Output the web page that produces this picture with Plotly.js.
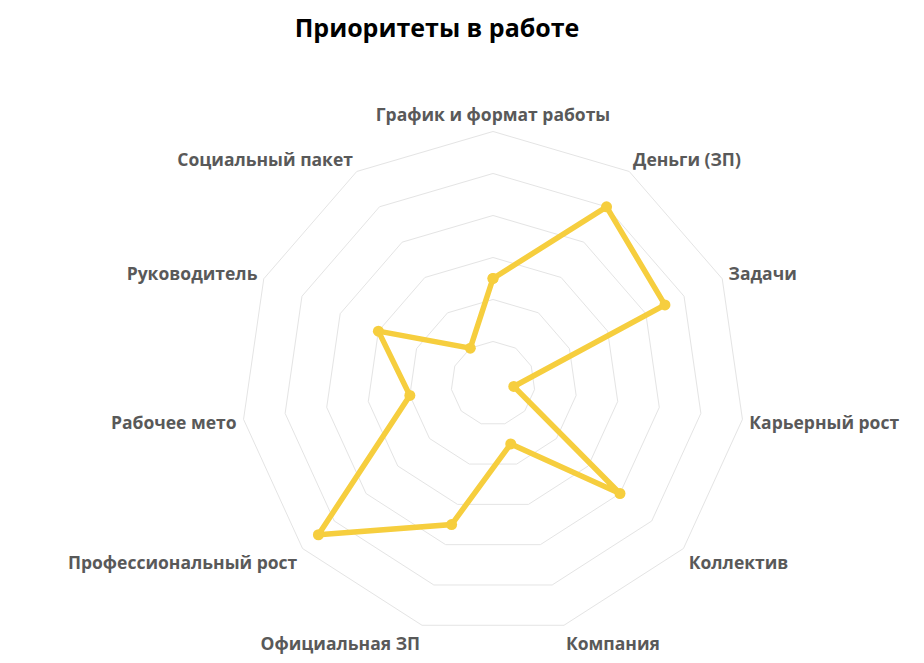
<!DOCTYPE html>
<html>
<head>
<meta charset="utf-8">
<script src="https://cdn.plot.ly/plotly-3.0.1.min.js"></script>
<style>
  html, body { margin: 0; padding: 0; background: #fff; }
  #gd { width: 924px; height: 663px; }
</style>
</head>
<body>
<div id="gd"></div>
<script>
// categories go clockwise from the top
const categories = [
  'График и формат работы',
  'Деньги (ЗП)',
  'Задачи',
  'Карьерный рост',
  'Коллектив',
  'Компания',
  'Официальная ЗП',
  'Профессиональный рост',
  'Рабочее мето',
  'Руководитель',
  'Социальный пакет'
];
const scores = [2.5, 5, 4.5, 0.5, 4, 1.5, 3.5, 5.5, 2, 3, 1];
const chartTitle = 'Приоритеты в работе';

// close the loop
const r = scores.concat([scores[0]]);
const theta = categories.concat([categories[0]]);

const yellow = '#F6CE3E';

const data = [{
  type: 'scatterpolar',
  r: r,
  theta: theta,
  mode: 'lines+markers',
  line: { color: yellow, width: 5.5 },
  marker: { color: yellow, size: 11 },
  hoverinfo: 'skip'
}];

const layout = {
  width: 924,
  height: 663,
  margin: { l: 0, r: 0, t: 0, b: 0 },
  paper_bgcolor: '#fff',
  showlegend: false,
  title: {
    text: chartTitle,
    x: 0.473,
    xanchor: 'center',
    y: 0.958,
    yanchor: 'middle',
    font: { family: 'Open Sans', size: 25, color: '#000', weight: 'bold' }
  },
  polar: {
    domain: { x: [0.2608, 0.8063], y: [0.0415, 0.8017] },
    bgcolor: '#fff',
    gridshape: 'linear',
    radialaxis: {
      range: [0, 6],
      dtick: 1,
      showticklabels: false,
      ticks: '',
      showline: false,
      gridcolor: '#e4e4e4',
      gridwidth: 1
    },
    angularaxis: {
      direction: 'clockwise',
      rotation: 90,
      showgrid: false,
      showline: true,
      linecolor: '#e4e4e4',
      ticks: 'outside',
      ticklen: 3,
      tickcolor: 'rgba(0,0,0,0)',
      tickfont: { family: 'Open Sans', size: 17.5, color: '#595959', weight: 'bold' }
    }
  }
};

Plotly.newPlot('gd', data, layout, { displayModeBar: false, staticPlot: true });
</script>
</body>
</html>
